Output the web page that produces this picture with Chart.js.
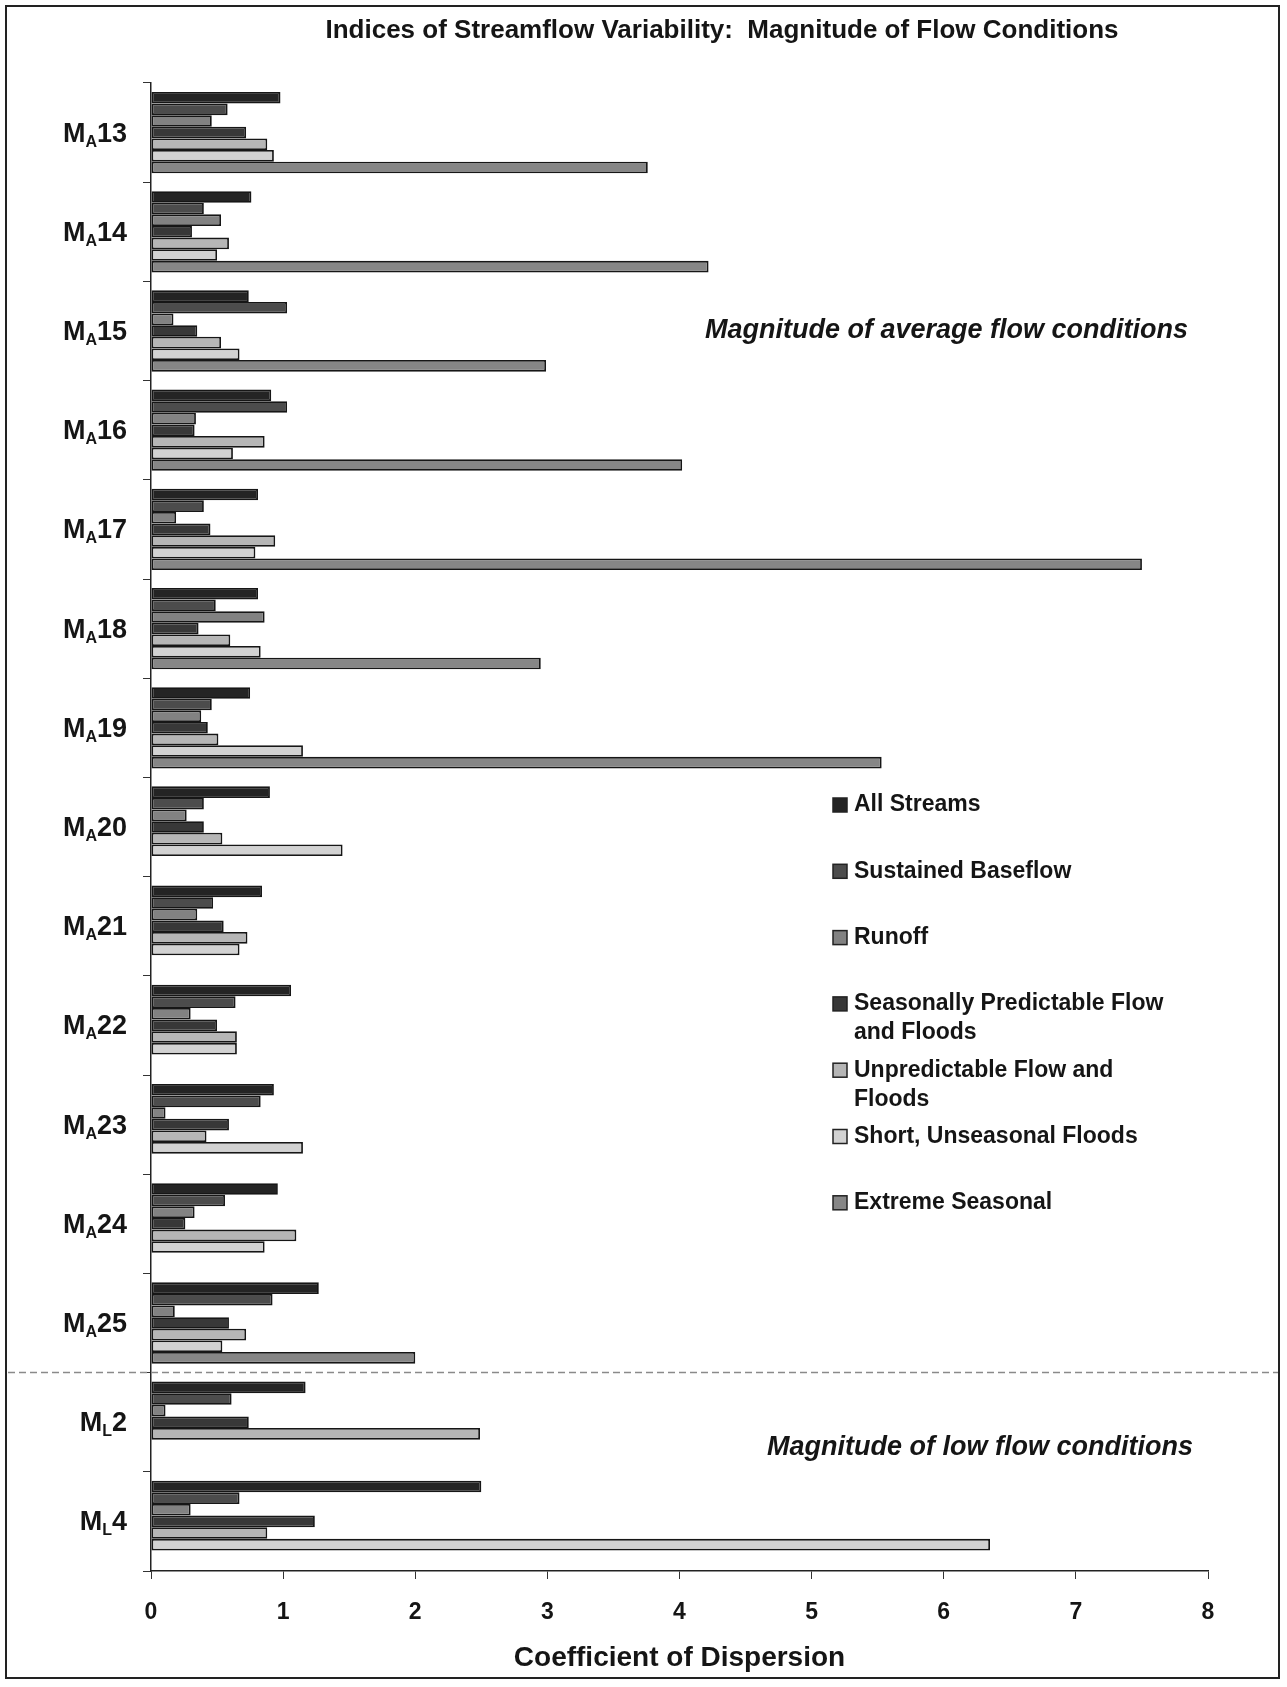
<!DOCTYPE html>
<html>
<head>
<meta charset="utf-8">
<script src="https://cdn.jsdelivr.net/npm/chart.js@4.4.0/dist/chart.umd.min.js"></script>
<style>
    body { margin: 0; background: #fff; }
    canvas { display: block; }
</style>
</head>
<body>
<canvas id="chart" width="1287" height="1687"></canvas>
<script>
// Index names: letter after "_" is drawn as a subscript
const categories = ['M_A13', 'M_A14', 'M_A15', 'M_A16', 'M_A17', 'M_A18', 'M_A19',
    'M_A20', 'M_A21', 'M_A22', 'M_A23', 'M_A24', 'M_A25', 'M_L2', 'M_L4'];

const allStreams        = [0.98, 0.76, 0.74, 0.91, 0.81, 0.81, 0.75, 0.90, 0.84, 1.06, 0.93, 0.96, 1.27, 1.17, 2.50];
const sustainedBaseflow = [0.58, 0.40, 1.03, 1.03, 0.40, 0.49, 0.46, 0.40, 0.47, 0.64, 0.83, 0.56, 0.92, 0.61, 0.67];
const runoff            = [0.46, 0.53, 0.17, 0.34, 0.19, 0.86, 0.38, 0.27, 0.35, 0.30, 0.11, 0.33, 0.18, 0.11, 0.30];
const seasonalFloods    = [0.72, 0.31, 0.35, 0.33, 0.45, 0.36, 0.43, 0.40, 0.55, 0.50, 0.59, 0.26, 0.59, 0.74, 1.24];
const unpredictable     = [0.88, 0.59, 0.53, 0.86, 0.94, 0.60, 0.51, 0.54, 0.73, 0.65, 0.42, 1.10, 0.72, 2.49, 0.88];
const shortUnseasonal   = [0.93, 0.50, 0.67, 0.62, 0.79, 0.83, 1.15, 1.45, 0.67, 0.65, 1.15, 0.86, 0.54, null, 6.35];
const extremeSeasonal   = [3.76, 4.22, 2.99, 4.02, 7.50, 2.95, 5.53, null, null, null, null, null, 2.00, null, null];

const xTicks = [0, 1, 2, 3, 4, 5, 6, 7, 8];

const chartTitle = 'Indices of Streamflow Variability:  Magnitude of Flow Conditions';
const xTitle = 'Coefficient of Dispersion';
const noteAverage = 'Magnitude of average flow conditions';
const noteLow = 'Magnitude of low flow conditions';

const FONT = '"Liberation Sans", Arial, sans-serif';
const INK = '#151515';

// Judul, label sumbu Y dengan subskrip, garis pemisah, catatan dan legenda
const decor = {
    id: 'decor',
    beforeDraw(chart) {
        const c = chart.ctx;
        c.save();
        c.fillStyle = '#fff';
        c.fillRect(0, 0, chart.width, chart.height);
        c.restore();
    },
    afterDraw(chart) {
        const c = chart.ctx;
        const yScale = chart.scales.y;
        c.save();

        // bingkai luar
        c.strokeStyle = '#222';
        c.lineWidth = 2;
        c.strokeRect(6, 6, 1273, 1672);

        // judul
        c.fillStyle = INK;
        c.font = 'bold 26px ' + FONT;
        c.textAlign = 'center';
        c.textBaseline = 'middle';
        c.fillText(chartTitle, 722, 31);

        // label kategori
        c.textAlign = 'left';
        c.textBaseline = 'alphabetic';
        categories.forEach((lab, i) => {
            const parts = lab.split('_');
            const base = parts[0], sub = parts[1][0], num = parts[1].slice(1);
            const py = yScale.getPixelForValue(i);
            c.font = 'bold 27px ' + FONT;
            const wBase = c.measureText(base).width;
            const wNum = c.measureText(num).width;
            c.font = 'bold 16px ' + FONT;
            const wSub = c.measureText(sub).width;
            let px = 127 - (wBase + wSub + wNum);
            const baseY = py + 9;
            c.font = 'bold 27px ' + FONT;
            c.fillText(base, px, baseY);
            px += wBase;
            c.font = 'bold 16px ' + FONT;
            c.fillText(sub, px, baseY + 5);
            px += wSub;
            c.font = 'bold 27px ' + FONT;
            c.fillText(num, px, baseY);
        });

        // garis pemisah antara M_A25 dan M_L2
        const sepY = (yScale.getPixelForValue(12) + yScale.getPixelForValue(13)) / 2;
        c.strokeStyle = '#8a8a8a';
        c.lineWidth = 1.5;
        c.setLineDash([7, 4]);
        c.beginPath();
        c.moveTo(8, sepY);
        c.lineTo(1278, sepY);
        c.stroke();
        c.setLineDash([]);

        // catatan
        c.fillStyle = INK;
        c.font = 'italic bold 27px ' + FONT;
        c.textAlign = 'right';
        c.textBaseline = 'middle';
        c.fillText(noteAverage, 1188, yScale.getPixelForValue(2));
        c.fillText(noteLow, 1193, 1448);

        // legenda
        c.textAlign = 'left';
        c.font = 'bold 23px ' + FONT;
        chart.data.datasets.forEach((ds, i) => {
            const top = 805 + i * 66.3;
            c.fillStyle = ds.backgroundColor;
            c.fillRect(833, top - 7, 14, 14);
            c.strokeStyle = '#222';
            c.lineWidth = 1.5;
            c.strokeRect(833, top - 7, 14, 14);
            // pecah label panjang menjadi beberapa baris
            const words = ds.label.split(' ');
            const lines = [];
            let line = '';
            words.forEach(w => {
                const test = line ? line + ' ' + w : w;
                if (c.measureText(test).width > 330 && line) {
                    lines.push(line);
                    line = w;
                } else {
                    line = test;
                }
            });
            lines.push(line);
            c.fillStyle = INK;
            lines.forEach((l, k) => c.fillText(l, 854, top + k * 29));
        });

        c.restore();
    }
};

const ctx = document.getElementById('chart').getContext('2d');

function series(label, data, color) {
    return {
        label: label,
        data: data,
        backgroundColor: color,
        borderColor: '#161616',
        borderWidth: 1.8,
        borderSkipped: false,
        categoryPercentage: 0.82,
        barPercentage: 1.0
    };
}

new Chart(ctx, {
    type: 'bar',
    data: {
        labels: categories,
        datasets: [
            series('All Streams', allStreams, '#242424'),
            series('Sustained Baseflow', sustainedBaseflow, '#4c4c4c'),
            series('Runoff', runoff, '#828282'),
            series('Seasonally Predictable Flow and Floods', seasonalFloods, '#383838'),
            series('Unpredictable Flow and Floods', unpredictable, '#b6b6b6'),
            series('Short, Unseasonal Floods', shortUnseasonal, '#d2d2d2'),
            series('Extreme Seasonal', extremeSeasonal, '#868686')
        ]
    },
    options: {
        indexAxis: 'y',
        responsive: false,
        animation: false,
        layout: {
            padding: { left: 0, right: 79, top: 83, bottom: 0 }
        },
        plugins: {
            legend: { display: false },
            tooltip: { enabled: false }
        },
        scales: {
            x: {
                type: 'linear',
                min: 0,
                max: 8,
                afterBuildTicks: scale => {
                    scale.ticks = xTicks.map(v => ({ value: v }));
                },
                afterFit: scale => { scale.height = 116; },
                grid: {
                    drawOnChartArea: false,
                    tickLength: 8,
                    color: '#333'
                },
                border: { color: '#222', width: 1.5 },
                ticks: {
                    color: INK,
                    padding: 20,
                    font: { family: FONT, size: 23, weight: 'bold' }
                },
                title: {
                    display: true,
                    text: xTitle,
                    color: INK,
                    padding: { top: 0, bottom: 12 },
                    font: { family: FONT, size: 28, weight: 'bold' }
                }
            },
            y: {
                type: 'category',
                afterFit: scale => { scale.width = 151; },
                grid: {
                    offset: true,
                    drawOnChartArea: false,
                    tickLength: 8,
                    color: '#333'
                },
                border: { color: '#222', width: 1.5 },
                ticks: { display: false }
            }
        }
    },
    plugins: [decor]
});
</script>
</body>
</html>
